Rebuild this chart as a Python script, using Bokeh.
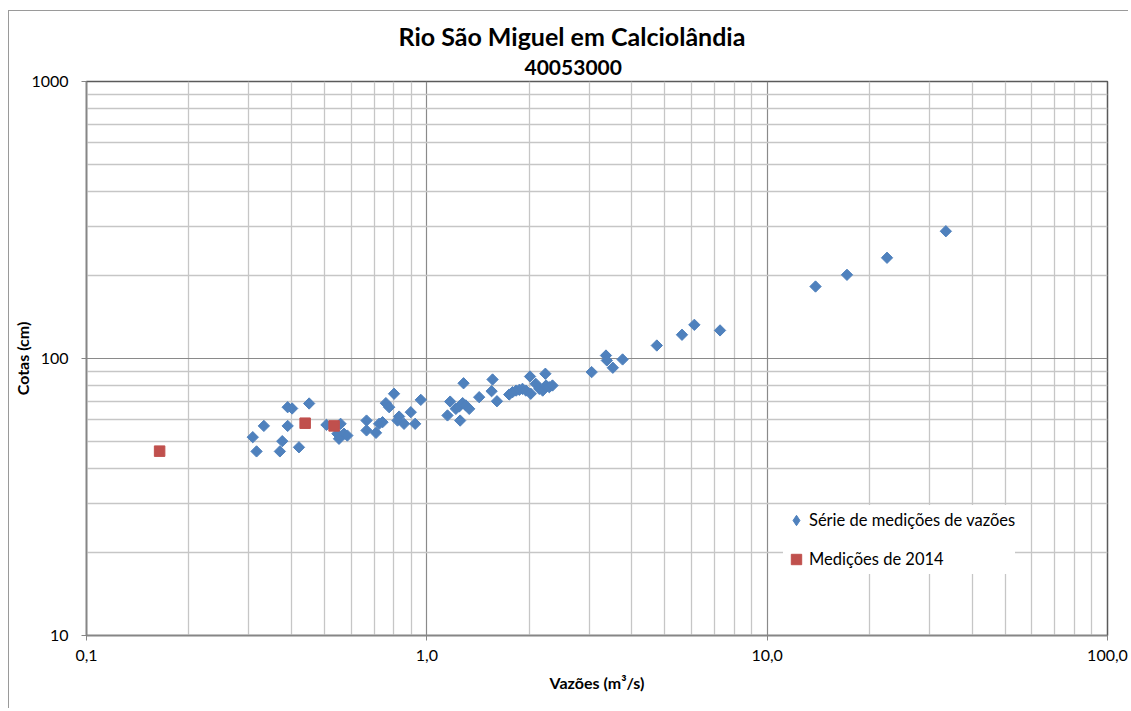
import numpy as np
from bokeh.plotting import figure
from bokeh.models import (Range1d, FixedTicker, CustomJSTickFormatter, Legend,
                          LegendItem, Title)
from bokeh.embed import file_html
from bokeh.resources import INLINE

# ---------------- data ----------------
serie_q = [0.308, 0.316, 0.332, 0.390, 0.402, 0.390, 0.376, 0.370, 0.421, 0.451,
           0.507, 0.558, 0.546, 0.571, 0.552, 0.584, 0.665, 0.665, 0.709, 0.724,
           0.741, 0.758, 0.775, 0.801, 0.829, 0.820, 0.857, 0.897, 0.924, 0.960,
           1.171, 1.150, 1.217, 1.245, 1.274, 1.302, 1.332, 1.253, 1.282, 1.425,
           1.56, 1.55, 1.607, 1.746, 1.786, 1.83, 1.87, 1.91, 1.954, 2.01,
           2.02, 2.09, 2.14, 2.19, 2.24, 2.29, 2.34, 2.23, 3.05, 3.36,
           3.38, 3.52, 3.76, 4.74, 5.62, 6.11, 7.27, 13.87, 17.16, 22.5, 33.5]
serie_h = [52.0, 46.2, 57.1, 66.7, 66.0, 57.1, 50.3, 46.2, 47.8, 68.8,
           57.6, 58.1, 53.5, 53.5, 51.3, 52.7, 59.7, 55.0, 53.9, 58.1,
           58.9, 69.0, 66.7, 74.6, 61.7, 59.7, 58.1, 64.0, 58.1, 70.9,
           69.9, 62.3, 65.8, 67.1, 69.0, 67.7, 65.8, 59.7, 81.4, 72.5,
           84.0, 76.2, 70.1, 74.1, 75.6, 76.6, 77.1, 77.7, 76.6, 86.1,
           74.6, 81.0, 77.7, 76.6, 79.9, 78.8, 79.9, 88.1, 89.3, 102.5,
           98.4, 92.6, 99.2, 111.4, 121.8, 132.3, 126.3, 181.9, 200.5, 231.0, 288.0]
m2014_q = [0.164, 0.439, 0.534]
m2014_h = [46.3, 58.4, 57.1]

x_major = [0.1, 1, 10, 100]
x_labels = ["0,1", "1,0", "10,0", "100,0"]
y_major = [10, 100, 1000]
y_labels = ["10", "100", "1000"]
x_minor = [k * 10.0 ** e for e in (-1, 0, 1) for k in range(2, 10)]
y_minor = [k * 10.0 ** e for e in (1, 2) for k in range(2, 10)]

title1 = "Rio São Miguel em Calciolândia"
title2 = "40053000"
xlabel = "Vazões (m³/s)"
ylabel = "Cotas (cm)"
serie_name = "Série de medições de vazões"
m2014_name = "Medições de 2014"

FONT = "Lato"
BLUE = "#4F81BD"
RED = "#C0504D"

p = figure(width=1120, height=698, x_axis_type="log", y_axis_type="log",
           x_range=Range1d(0.1, 100), y_range=Range1d(10, 1000),
           output_backend="svg", toolbar_location=None,
           min_border_left=77, min_border_right=22, min_border_top=70,
           min_border_bottom=74)
p.styles = {"margin-left": "8px", "margin-top": "10px",
            "border-left": "1px solid #9a9a9a", "border-top": "1px solid #9a9a9a"}
p.background_fill_color = "white"
p.border_fill_color = "white"
p.outline_line_color = "#5a5a5a"
p.outline_line_width = 1.5

fmt_code = """
for (let i = 0; i < majors.length; i++) {
  if (Math.abs(Math.log10(tick) - Math.log10(majors[i])) < 1e-6) return labs[i];
}
return '';
"""
p.xaxis.ticker = FixedTicker(ticks=x_major, minor_ticks=x_minor)
p.yaxis.ticker = FixedTicker(ticks=y_major, minor_ticks=y_minor)
p.xaxis.formatter = CustomJSTickFormatter(args=dict(majors=x_major, labs=x_labels), code=fmt_code)
p.yaxis.formatter = CustomJSTickFormatter(args=dict(majors=y_major, labs=y_labels), code=fmt_code)

for ax in (p.xaxis[0], p.yaxis[0]):
    ax.axis_line_color = "#868686"
    ax.axis_line_width = 1.5
    ax.major_tick_line_color = "#868686"
    ax.major_tick_in = 0
    ax.major_tick_out = 5
    ax.minor_tick_line_color = None
    ax.major_label_text_font = FONT
    ax.major_label_text_font_size = "16px"
    ax.major_label_text_color = "black"
    ax.axis_label_text_font = FONT
    ax.axis_label_text_font_size = "16px"
    ax.axis_label_text_font_style = "bold"
    ax.axis_label_text_color = "black"

p.xaxis.axis_label = xlabel
p.yaxis.axis_label = ylabel
p.xaxis.major_label_standoff = 9
p.yaxis.major_label_standoff = 13
p.xaxis.axis_label_standoff = 9
p.yaxis.axis_label_standoff = -4

for g in (p.xgrid[0], p.ygrid[0]):
    g.grid_line_color = "#8a8a8a"
    g.grid_line_width = 1.2
    g.minor_grid_line_color = "#c6c6c6"
    g.minor_grid_line_width = 1.3
p.xgrid.ticker = p.xaxis.ticker
p.ygrid.ticker = p.yaxis.ticker

r1 = p.scatter(serie_q, serie_h, marker="square", angle=np.pi / 4, size=8,
               fill_color=BLUE, line_color=BLUE)
r2 = p.scatter(m2014_q, m2014_h, marker="square", size=10.5,
               fill_color=RED, line_color=RED)
# hidden twin of the diamond series, used only for its legend symbol
r1_leg = p.scatter(serie_q, serie_h, marker="diamond", fill_color=BLUE,
                   line_color=BLUE, visible=False)

legend = Legend(items=[LegendItem(label=serie_name, renderers=[r1_leg]),
                       LegendItem(label=m2014_name, renderers=[r2])],
                location=(697, 61), orientation="vertical",
                glyph_width=26, glyph_height=30, label_standoff=0,
                spacing=9, padding=2, margin=0,
                border_line_color=None, background_fill_color="white",
                background_fill_alpha=1.0, inactive_fill_alpha=0.0,
                label_text_font=FONT, label_text_font_size="16.5px",
                label_text_color="black")
p.add_layout(legend, "center")

t2 = Title(text=title2, align="left", offset=438, standoff=14,
           text_font=FONT, text_font_size="21px", text_font_style="bold",
           text_color="black")
t1 = Title(text=title1, align="left", offset=312, standoff=0,
           text_font=FONT, text_font_size="25px", text_font_style="bold",
           text_color="black")
p.add_layout(t2, "above")
p.add_layout(t1, "above")

open("out.html", "w").write(file_html(p, INLINE))
